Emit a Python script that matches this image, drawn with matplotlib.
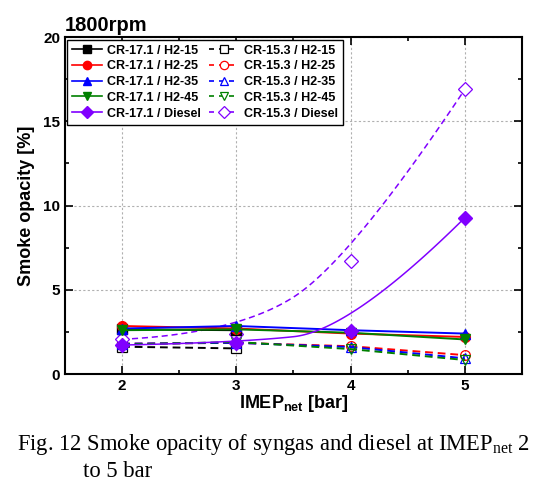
import numpy as np
import matplotlib
matplotlib.use('Agg')
import matplotlib.pyplot as plt
from matplotlib.lines import Line2D

plt.rcParams['font.family'] = 'Liberation Sans'
plt.rcParams['font.weight'] = 'bold'
plt.rcParams['mathtext.fontset'] = 'custom'
plt.rcParams['mathtext.rm'] = 'Liberation Serif:normal'
plt.rcParams['mathtext.bf'] = 'Liberation Sans:bold'

# data
imep = [2, 3, 4, 5]
imep_h15 = [2, 3]

cr171_h15 = [2.65, 2.6]
cr171_h25 = [2.85, 2.7, 2.4, 2.2]
cr171_h35 = [2.7, 2.85, 2.6, 2.4]
cr171_h45 = [2.6, 2.65, 2.45, 2.05]
cr171_diesel = [1.72, 1.86, 2.57, 9.28]

cr153_h15 = [1.62, 1.52]
cr153_h25 = [1.8, 1.85, 1.65, 1.12]
cr153_h35 = [1.8, 1.85, 1.6, 0.93]
cr153_h45 = [1.75, 1.9, 1.48, 0.83]
cr153_diesel = [2.06, 2.4, 6.73, 16.9]

labels_171 = ['CR-17.1 / H2-15', 'CR-17.1 / H2-25', 'CR-17.1 / H2-35',
              'CR-17.1 / H2-45', 'CR-17.1 / Diesel']
labels_153 = ['CR-15.3 / H2-15', 'CR-15.3 / H2-25', 'CR-15.3 / H2-35',
              'CR-15.3 / H2-45', 'CR-15.3 / Diesel']
colors = ['black', 'red', 'blue', 'green', '#8000ff']
markers = ['s', 'o', '^', 'v', 'D']


def bspline2(x, y, n=60):
    # clamped quadratic B-spline with the data as control points
    p = np.column_stack([x, y]).astype(float)
    k = len(p)
    pts = []
    for i in range(k - 2):
        a = p[i] if i == 0 else (p[i] + p[i + 1]) / 2
        b = p[i + 1]
        c = p[i + 2] if i == k - 3 else (p[i + 1] + p[i + 2]) / 2
        t = np.linspace(0, 1, n)[:, None]
        pts.append((1 - t) ** 2 * a + 2 * t * (1 - t) * b + t ** 2 * c)
    pts = np.vstack(pts)
    return pts[:, 0], pts[:, 1]


fig = plt.figure(figsize=(5.41, 4.87), dpi=100)
ax = fig.add_axes([0.12, 0.232, 0.845, 0.692])

solid = [cr171_h15, cr171_h25, cr171_h35, cr171_h45, cr171_diesel]
dashed = [cr153_h15, cr153_h25, cr153_h35, cr153_h45, cr153_diesel]
dash = (0, (4, 2.5))

for i, y in enumerate(dashed):
    x = imep_h15 if i == 0 else imep
    c = colors[i]
    if i == 4:
        sx, sy = bspline2(x, y)
        ax.plot(sx, sy, color=c, lw=1.1, ls=dash, zorder=2)
        ax.plot(x, y, ls='none', marker=markers[i], ms=7, mfc='white',
                mec=c, mew=0.9, zorder=3)
    else:
        ax.plot(x, y, color=c, lw=1.4, ls=dash, marker=markers[i], ms=7,
                mfc='none', mec=c, mew=0.9, zorder=2)

for i, y in enumerate(solid):
    x = imep_h15 if i == 0 else imep
    c = colors[i]
    if i == 4:
        sx, sy = bspline2(x, y)
        ax.plot(sx, sy, color=c, lw=1.1, zorder=4)
        ax.plot(x, y, ls='none', marker=markers[i], ms=7, color=c, zorder=5)
    else:
        ax.plot(x, y, color=c, lw=1.4, marker=markers[i], ms=7, zorder=4)

handles = []
for i in range(5):
    handles.append(Line2D([], [], color=colors[i], lw=1.2,
                          marker=markers[i], ms=6, label=labels_171[i]))
for i in range(5):
    handles.append(Line2D([], [], color=colors[i], lw=1.2, ls=(0, (3, 3)),
                          marker=markers[i], ms=6, mfc='white',
                          mec=colors[i], mew=0.9, label=labels_153[i]))

leg = ax.legend(handles=handles, ncol=2, loc='upper left',
                prop={'weight': 'bold', 'size': 9.0}, frameon=True,
                fancybox=False, edgecolor='black', framealpha=1,
                borderaxespad=0.2, handlelength=2.4, columnspacing=0.6,
                handletextpad=0.4, labelspacing=0.3, borderpad=0.4)
leg.get_frame().set_linewidth(1.0)

ax.set_xlim(1.5, 5.5)
ax.set_ylim(0, 20)
ax.set_xticks([2, 3, 4, 5])
ax.set_xticks([1.5, 2.5, 3.5, 4.5, 5.5], minor=True)
ax.set_yticks([0, 5, 10, 15, 20])
ax.set_yticks([2.5, 7.5, 12.5, 17.5], minor=True)
ax.grid(True, which='major', color='#b0b0b0', ls=(0, (2, 2)), lw=0.8)
ax.tick_params(which='both', direction='in', top=True, right=True,
               labelsize=11, width=1.2)
ax.tick_params(which='major', length=6)
ax.tick_params(which='minor', length=3)
for s in ax.spines.values():
    s.set_linewidth(1.5)

ax.set_ylabel('Smoke opacity [%]', fontsize=13, fontweight='bold', labelpad=6)
ax.set_xlabel(r'IMEP$_{\mathbf{net}}$ [bar]', fontsize=13,
              fontweight='bold', labelpad=0)
ax.set_title('1800rpm', loc='left', fontsize=14.5, fontweight='bold', pad=4)

fig.text(530 / 541, 1 - 450 / 487,
         'Fig. 12 Smoke opacity of syngas and diesel at IMEP$_{\\mathrm{net}}$ 2',
         family='Liberation Serif', fontweight='normal', fontsize=16.3,
         ha='right', va='baseline')
fig.text(83 / 541, 1 - 477 / 487, 'to 5 bar',
         family='Liberation Serif', fontweight='normal', fontsize=16.3,
         ha='left', va='baseline')

fig.savefig('out.png', dpi=100)
